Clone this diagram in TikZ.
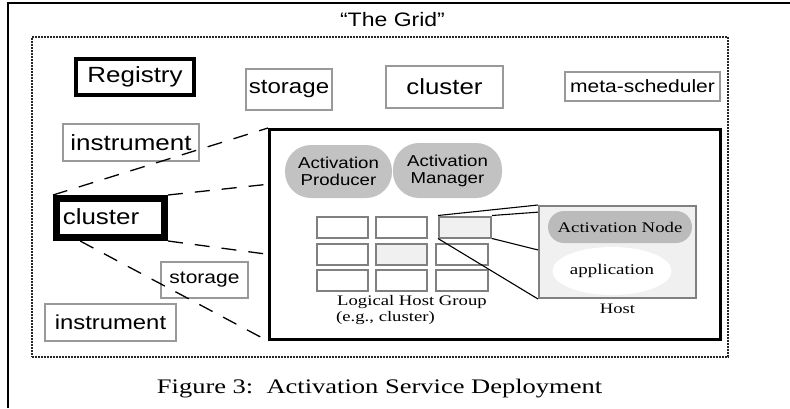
\documentclass[tikz,border=0pt]{standalone}
\usepackage{fontspec}
\setmainfont[FakeStretch=1.28]{Liberation Serif}
\newfontfamily\arialf[FakeStretch=1.18]{Liberation Sans}
\usetikzlibrary{calc,shapes.geometric}
\definecolor{boxgray}{HTML}{999999}
\definecolor{cellgray}{HTML}{808080}
\definecolor{bubble}{HTML}{C2C2C2}
\definecolor{nodegray}{HTML}{BBBBBB}
\definecolor{hostfill}{HTML}{F0F0F0}
\newcommand\fsz[2]{\fontsize{#1}{#2}\selectfont}
\begin{document}
\begin{tikzpicture}[x=1pt,y=-1pt,
  gbox/.style={draw=boxgray, line width=2pt, inner sep=0pt, font=\arialf},
  kbox/.style={draw=black, inner sep=0pt, font=\arialf},
  cellbox/.style={draw=cellgray, line width=2pt, inner sep=0pt, minimum width=51pt, minimum height=21pt},
  bubblebox/.style={fill=bubble, rounded corners=26pt, inner sep=0pt, align=center, font=\arialf\fsz{15.8}{17}},
  dashline/.style={draw=black, line width=1.3pt, dash pattern=on 15pt off 12pt},
  zoomline/.style={draw=black, line width=1.1pt},
]
\useasboundingbox (0,0) rectangle (790,408);
% outer frame (only left and top visible)
\coordinate (fbl) at (8,408);
\coordinate (ftl) at (8,3);
\coordinate (ftr) at (790,3);
\draw[line width=2.5pt] (fbl) -- (ftl) -- (ftr);
\node[font=\arialf\fsz{19.5}{22}, anchor=base, inner sep=0pt] (title) at (392.5,26) {“The Grid”};
% grid boundary
\node[draw=black!85, line width=1.4pt, dash pattern=on 2pt off 1pt, minimum width=696pt, minimum height=320pt, inner sep=0pt] (grid) at (380,197) {};
% resources
\node[kbox, line width=3.5pt, minimum width=118pt, minimum height=36pt] (registry) at (135,77) {\fsz{22}{24}Registry};
\node[gbox, minimum width=86pt, minimum height=41pt] (storA) at (289,89.5) {\fsz{20.4}{22}storage};
\node[gbox, minimum width=117pt, minimum height=42pt] (clusA) at (444.5,87) {\fsz{21.9}{24}cluster};
\node[gbox, minimum width=155pt, minimum height=29pt] (meta) at (642.5,86.5) {\fsz{17.8}{20}meta-scheduler};
\node[gbox, minimum width=136pt, minimum height=37pt] (instA) at (131,142.5) {\fsz{22}{24}instrument};
\node[kbox, line width=7pt, minimum width=108pt, minimum height=39pt] (clusB) at (110.5,218) {};
\node[font=\arialf\fsz{22}{24}, inner sep=0pt] (clusBt) at (101,217) {cluster};
\node[gbox, minimum width=87pt, minimum height=36pt] (storB) at (204.5,280) {\fsz{17.8}{20}storage};
\node[gbox, minimum width=131pt, minimum height=37pt] (instB) at (110.5,322.5) {\fsz{20.2}{22}instrument};
% expanded cluster
\node[kbox, line width=3pt, minimum width=451pt, minimum height=210pt] (big) at (495,234.5) {};
\node[bubblebox, minimum width=107pt, minimum height=53pt] (prod) at (338.5,171.5) {Activation\\Producer};
\node[bubblebox, minimum width=109pt, minimum height=55pt] (mgr) at (447.5,170.5) {Activation\\Manager};
% host group cells
\node[cellbox] (c11) at (342.5,227) {};
\node[cellbox] (c12) at (401.5,227) {};
\node[cellbox, fill=hostfill, minimum width=52pt] (c13) at (465,227) {};
\node[cellbox] (c21) at (342.5,254) {};
\node[cellbox, fill=hostfill] (c22) at (401.5,254) {};
\node[cellbox, minimum width=52pt] (c23) at (462,254) {};
\node[cellbox] (c31) at (342.5,280.5) {};
\node[cellbox] (c32) at (401.5,280.5) {};
\node[cellbox, minimum width=52pt] (c33) at (462,280.5) {};
\node[anchor=base west, inner sep=0pt, font=\fsz{14.6}{16}] (lhg) at (337,305) {Logical Host Group};
\node[anchor=base west, inner sep=0pt, font=\fsz{14.6}{16}] (lhgb) at (336,321) {(e.g., cluster)};
% host
\node[draw=cellgray, fill=hostfill, line width=2pt, minimum width=157pt, minimum height=92pt, inner sep=0pt] (host) at (617.5,252) {};
\node[fill=nodegray, rounded corners=16pt, minimum width=144pt, minimum height=32pt, inner sep=0pt, font=\fsz{14.7}{16}] (anode) at (620,227) {Activation Node};
\node[ellipse, fill=white, minimum width=108pt, minimum height=48pt, inner sep=0pt, font=\fsz{14.8}{16}] (app) at (612,271) {application};
\node[anchor=base, inner sep=0pt, font=\fsz{14.5}{16}] (hostlbl) at (617.5,313) {Host};
% zoom lines from cell to host
\draw[zoomline] (c13.north west) -- (host.north west);
\draw[zoomline] (c13.north east) -- ($(host.north west)!0.076!(host.south west)$);
\draw[zoomline] (c13.south east) -- ($(host.north west)!0.478!(host.south west)$);
\draw[zoomline] (c13.south west) -- (host.south west);
% dashed expansion lines
\draw[dashline] (clusB.north west) -- (big.north west);
\draw[dashline] (clusB.north east) -- ($(big.north west)!0.264!(big.south west)$);
\draw[dashline] (clusB.south east) -- ($(big.north west)!0.593!(big.south west)$);
\draw[dashline] ($(clusB.south west)!0.236!(clusB.south east)$) -- (big.south west);
% caption
\node[anchor=base, inner sep=0pt, font=\fsz{20.7}{24}] (caption) at (379.5,393) {Figure 3:\ \ Activation Service Deployment};
\end{tikzpicture}
\end{document}
